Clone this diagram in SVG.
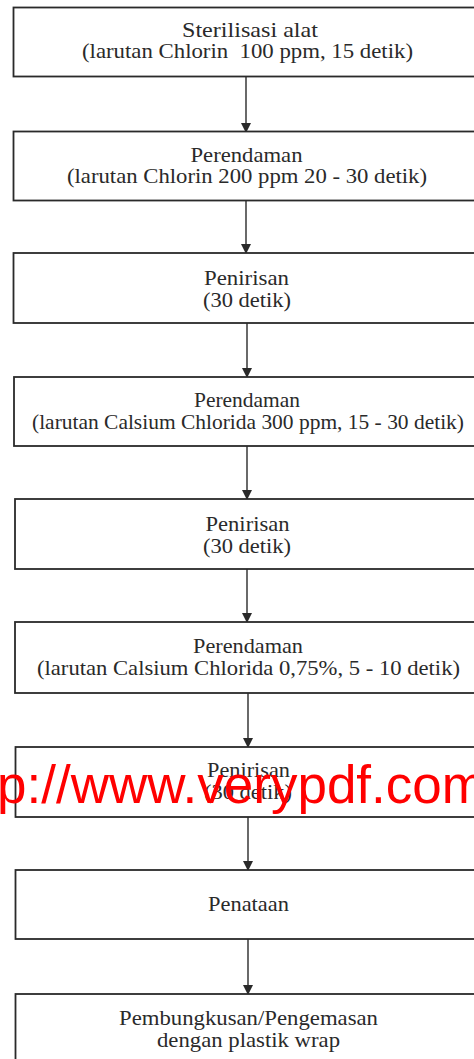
<svg xmlns="http://www.w3.org/2000/svg" width="474" height="1059" viewBox="0 0 474 1059">
<defs>
<style>
.box{fill:#fff;stroke:#2a2a2a;stroke-width:1.8}
.t{font-family:"Liberation Serif","Times New Roman",serif;font-size:21px;fill:#2a2a2a;text-anchor:middle}
.c{stroke:#2a2a2a;stroke-width:1.4;fill:none;marker-end:url(#ah)}
.wm{font-family:"Liberation Sans",Arial,sans-serif;font-size:53px;fill:#ff0000}
</style>
<marker id="ah" markerWidth="10" markerHeight="10" refX="9" refY="5" orient="auto" markerUnits="userSpaceOnUse">
<path d="M0,0 L10,5 L0,10 z" fill="#2a2a2a"/>
</marker>
</defs>
<rect width="474" height="1059" fill="#fff"/>
<g id="connectors">
<line class="c" x1="246" y1="77" x2="246" y2="132"/>
<line class="c" x1="246" y1="201" x2="246" y2="253"/>
<line class="c" x1="247" y1="323" x2="247" y2="377"/>
<line class="c" x1="247" y1="446" x2="247" y2="499"/>
<line class="c" x1="247" y1="569" x2="247" y2="622"/>
<line class="c" x1="248" y1="693" x2="248" y2="747"/>
<line class="c" x1="248" y1="817" x2="248" y2="870"/>
<line class="c" x1="248" y1="939" x2="248" y2="994"/>
</g>
<g id="n1"><rect class="box" x="13.5" y="7.5" width="470" height="69"/>
<text class="t" x="250" y="37" textLength="136" lengthAdjust="spacingAndGlyphs">Sterilisasi alat</text>
<text class="t" x="247.5" y="58" textLength="331" lengthAdjust="spacingAndGlyphs" xml:space="preserve">(larutan Chlorin  100 ppm, 15 detik)</text></g>
<g id="n2"><rect class="box" x="13.5" y="131.5" width="470" height="69"/>
<text class="t" x="246.5" y="162" textLength="112" lengthAdjust="spacingAndGlyphs">Perendaman</text>
<text class="t" x="247" y="183" textLength="360" lengthAdjust="spacingAndGlyphs">(larutan Chlorin 200 ppm 20 - 30 detik)</text></g>
<g id="n3"><rect class="box" x="13.5" y="253" width="470" height="70"/>
<text class="t" x="246.5" y="285" textLength="85" lengthAdjust="spacingAndGlyphs">Penirisan</text>
<text class="t" x="247" y="307" textLength="88" lengthAdjust="spacingAndGlyphs">(30 detik)</text></g>
<g id="n4"><rect class="box" x="14" y="377" width="470" height="69"/>
<text class="t" x="247" y="407" textLength="106" lengthAdjust="spacingAndGlyphs">Perendaman</text>
<text class="t" x="248" y="429" textLength="432" lengthAdjust="spacingAndGlyphs">(larutan Calsium Chlorida 300 ppm, 15 - 30 detik)</text></g>
<g id="n5"><rect class="box" x="15" y="499" width="470" height="70"/>
<text class="t" x="247.5" y="531" textLength="84" lengthAdjust="spacingAndGlyphs">Penirisan</text>
<text class="t" x="247" y="553" textLength="88" lengthAdjust="spacingAndGlyphs">(30 detik)</text></g>
<g id="n6"><rect class="box" x="15" y="622" width="470" height="71"/>
<text class="t" x="248" y="653" textLength="110" lengthAdjust="spacingAndGlyphs">Perendaman</text>
<text class="t" x="248.5" y="675" textLength="423" lengthAdjust="spacingAndGlyphs">(larutan Calsium Chlorida 0,75%, 5 - 10 detik)</text></g>
<g id="n7"><rect class="box" x="15.5" y="747" width="470" height="70"/>
<text class="t" x="248.5" y="777" textLength="83" lengthAdjust="spacingAndGlyphs">Penirisan</text>
<text class="t" x="248" y="799" textLength="88" lengthAdjust="spacingAndGlyphs">(30 detik)</text></g>
<g id="n8"><rect class="box" x="15.5" y="870" width="470" height="69"/>
<text class="t" x="248.5" y="911" textLength="81" lengthAdjust="spacingAndGlyphs">Penataan</text></g>
<g id="n9"><rect class="box" x="15.5" y="994" width="470" height="80"/>
<text class="t" x="248.5" y="1025" textLength="259" lengthAdjust="spacingAndGlyphs">Pembungkusan/Pengemasan</text>
<text class="t" x="248.5" y="1047" textLength="183" lengthAdjust="spacingAndGlyphs">dengan plastik wrap</text></g>
<text class="wm" x="-3" y="803">p://www.verypdf.com</text>
</svg>
